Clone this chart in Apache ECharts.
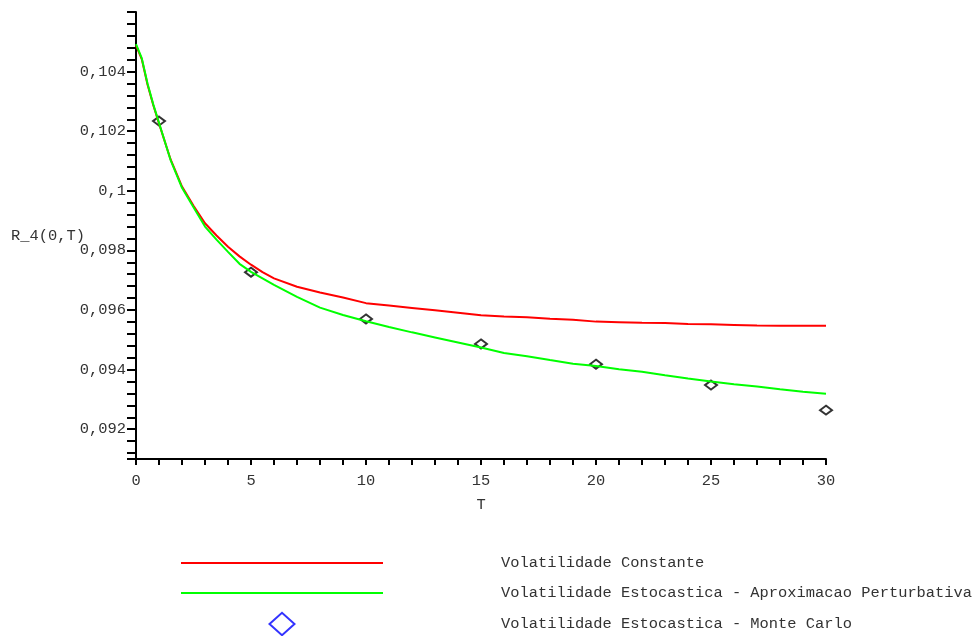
<!DOCTYPE html>
<html>
<head>
<meta charset="utf-8">
<script src="https://cdn.jsdelivr.net/npm/echarts@6/dist/echarts.min.js"></script>
<style>
html,body{margin:0;padding:0;background:#fff;}
#chart{width:977px;height:636px;}
</style>
</head>
<body>
<div id="chart"></div>
<script>
// ---- data ----
var tCurve = [0, 0.25, 0.5, 0.75, 1, 1.5, 2, 2.5, 3, 3.5, 4, 4.5, 5, 5.5, 6, 7, 8, 9, 10, 11, 12, 13, 14, 15, 16, 17, 18, 19, 20, 21, 22, 23, 24, 25, 26, 27, 28, 29, 30];
var volConstante = [0.10488, 0.10442, 0.10357, 0.10288, 0.10226, 0.10106, 0.10014, 0.09950, 0.09891, 0.09850, 0.09812, 0.09780, 0.09752, 0.09727, 0.09706, 0.09678, 0.09659, 0.09642, 0.09623, 0.09615, 0.09607, 0.09599, 0.09591, 0.09582, 0.09578, 0.09576, 0.09571, 0.09567, 0.09561, 0.09559, 0.09557, 0.09556, 0.09553, 0.09552, 0.09550, 0.09548, 0.09547, 0.09547, 0.09547];
var volEstocastica = [0.10492, 0.10445, 0.10360, 0.10290, 0.10228, 0.10104, 0.10010, 0.09945, 0.09880, 0.09836, 0.09795, 0.09755, 0.09728, 0.09706, 0.09684, 0.09644, 0.09608, 0.09583, 0.09562, 0.09543, 0.09525, 0.09508, 0.09491, 0.09474, 0.09456, 0.09445, 0.09432, 0.09420, 0.09412, 0.09401, 0.09393, 0.09381, 0.09370, 0.09360, 0.09351, 0.09343, 0.09334, 0.09326, 0.09319];
var tMonteCarlo = [1, 5, 10, 15, 20, 25, 30];
var monteCarlo = [0.10234, 0.09727, 0.09570, 0.09486, 0.09418, 0.09348, 0.09264];
var xLabelValues = [0, 5, 10, 15, 20, 25, 30];
var yLabelValues = [0.092, 0.094, 0.096, 0.098, 0.1, 0.102, 0.104];
var seriesNames = ['Volatilidade Constante', 'Volatilidade Estocastica - Aproximacao Perturbativa', 'Volatilidade Estocastica - Monte Carlo'];

// ---- build ----
function pairs(xs, ys) { return xs.map(function (x, i) { return [x, ys[i]]; }); }
var xTicks = [];
for (var i = 0; i <= 30; i++) xTicks.push(i);
var yTicks = [0.091];
for (var k = 228; k <= 265; k++) yTicks.push(Math.round(k * 4) / 10000);

var FONT = 'Liberation Mono';
var FS = 15.4;
var TXT = '#333333';
var LINE_ICON = 'path://M0,0M0,11.1L202,11.1L202,12.9L0,12.9ZM202,24';
var DIAMOND_ICON = 'path://M0,0M88.5,12L101,0.8L113.5,12L101,23.2ZM202,24';

var chart = echarts.init(document.getElementById('chart'), null, { renderer: 'canvas' });
chart.setOption({
  animation: false,
  backgroundColor: '#ffffff',
  grid: { left: 136, right: 151, top: 12, bottom: 177, containLabel: false, outerBoundsMode: 'none' },
  xAxis: {
    type: 'value', min: 0, max: 30,
    name: 'T', nameLocation: 'middle', nameGap: 38, nameMoveOverlap: false,
    nameTextStyle: { fontFamily: FONT, fontSize: FS, color: TXT },
    axisLine: { show: true, onZero: false, lineStyle: { color: '#000', width: 2 } },
    axisTick: { show: true, length: 6, customValues: xTicks, lineStyle: { color: '#000', width: 2 } },
    axisLabel: { customValues: xLabelValues, margin: 14, fontFamily: FONT, fontSize: FS, color: TXT },
    splitLine: { show: false }
  },
  yAxis: {
    type: 'value', min: 0.091, max: 0.106,
    name: 'R_4(0,T)', nameLocation: 'middle', nameRotate: 0, nameGap: 51, nameMoveOverlap: false,
    nameTextStyle: { fontFamily: FONT, fontSize: FS, color: TXT, align: 'right', verticalAlign: 'middle' },
    axisLine: { show: true, onZero: false, lineStyle: { color: '#000', width: 2 } },
    axisTick: { show: true, length: 9, customValues: yTicks, lineStyle: { color: '#000', width: 2 } },
    axisLabel: {
      customValues: yLabelValues, margin: 10, fontFamily: FONT, fontSize: FS, color: TXT,
      formatter: function (v) { return String(parseFloat(v.toFixed(4))).replace('.', ','); }
    },
    splitLine: { show: false }
  },
  legend: {
    orient: 'vertical', left: 180, top: 551, height: 200, padding: 0,
    itemWidth: 202, itemHeight: 24, itemGap: 6,
    textStyle: { fontFamily: FONT, fontSize: FS, color: TXT, padding: [0, 0, 0, 113] },
    data: [
      { name: seriesNames[0], icon: LINE_ICON, itemStyle: { color: '#ff0000' } },
      { name: seriesNames[1], icon: LINE_ICON, itemStyle: { color: '#00ff00' } },
      { name: seriesNames[2], icon: DIAMOND_ICON, itemStyle: { color: 'rgba(0,0,0,0)', borderColor: '#0000ff', borderWidth: 2 } }
    ]
  },
  series: [
    {
      name: seriesNames[0], type: 'line', data: pairs(tCurve, volConstante),
      symbol: 'none', smooth: false,
      lineStyle: { color: '#ff0000', width: 2 }, itemStyle: { color: '#ff0000' }
    },
    {
      name: seriesNames[1], type: 'line', data: pairs(tCurve, volEstocastica),
      symbol: 'none', smooth: false,
      lineStyle: { color: '#00ff00', width: 2 }, itemStyle: { color: '#00ff00' }
    },
    {
      name: seriesNames[2], type: 'scatter', data: pairs(tMonteCarlo, monteCarlo),
      symbol: 'diamond', symbolSize: [12, 9],
      itemStyle: { color: 'rgba(0,0,0,0)', borderColor: '#000', borderWidth: 2 }
    }
  ]
});
</script>
</body>
</html>
